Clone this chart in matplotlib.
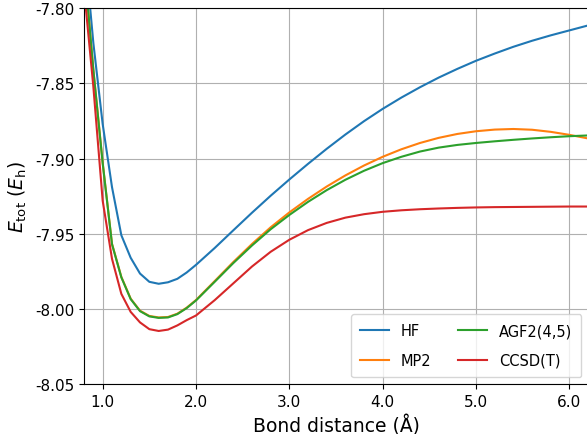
import numpy as np
import matplotlib
matplotlib.use("Agg")
import matplotlib.pyplot as plt
from matplotlib.ticker import FormatStrFormatter

# bond distances (Angstrom)
r = [0.8, 0.9, 1.0, 1.1, 1.2, 1.3, 1.4, 1.5, 1.6, 1.7, 1.8, 1.9, 2.0,
     2.2, 2.4, 2.6, 2.8, 3.0, 3.2, 3.4, 3.6, 3.8, 4.0, 4.2, 4.4, 4.6,
     4.8, 5.0, 5.2, 5.4, 5.6, 5.8, 6.0, 6.2, 6.4]

# total energies (Hartree)
e_hf = [-7.755, -7.823, -7.877, -7.919, -7.951, -7.966, -7.9765, -7.982,
        -7.9833, -7.9823, -7.980, -7.9758, -7.9707,
        -7.9595, -7.9477, -7.9360, -7.9247, -7.9139, -7.9035, -7.8935,
        -7.8840, -7.8751, -7.8669, -7.8594, -7.8525, -7.8461, -7.8403,
        -7.8349, -7.8301, -7.8256, -7.8216, -7.8180, -7.8147, -7.8114,
        -7.8084]
e_mp2 = [-7.7697, -7.8407, -7.9027, -7.9567, -7.9787, -7.9932, -8.0012,
         -8.0047, -8.0057, -8.0054, -8.0032, -7.9992, -7.9941,
         -7.9815, -7.9688, -7.9568, -7.9457, -7.9358, -7.9268, -7.9186,
         -7.9112, -7.9046, -7.8988, -7.8938, -7.8896, -7.8862, -7.8836,
         -7.8818, -7.8807, -7.8803, -7.8808, -7.8822, -7.8842, -7.8866,
         -7.8893]
e_agf2 = [-7.770, -7.841, -7.903, -7.957, -7.979, -7.9935, -8.0015, -8.005,
          -8.006, -8.0057, -8.0035, -7.9995, -7.9944,
          -7.9820, -7.9695, -7.9578, -7.9470, -7.9375, -7.9288, -7.9210,
          -7.9141, -7.9081, -7.9030, -7.8988, -7.8953, -7.8927, -7.8909,
          -7.8896, -7.8885, -7.8875, -7.8866, -7.8858, -7.8851, -7.8846,
          -7.8842]
e_ccsdt = [-7.787, -7.852, -7.928, -7.9667, -7.990, -8.002, -8.009, -8.0135,
           -8.0147, -8.0138, -8.011, -8.0075, -8.0044,
           -7.9942, -7.9830, -7.9718, -7.9620, -7.9540, -7.9476, -7.9428,
           -7.9393, -7.9370, -7.9354, -7.9344, -7.9337, -7.9332, -7.9328,
           -7.9325, -7.9323, -7.9322, -7.9321, -7.9320, -7.9319, -7.9319,
           -7.9318]

labels = ["HF", "MP2", "AGF2(4,5)", "CCSD(T)"]

plt.rcParams['axes.unicode_minus'] = False

fig = plt.figure(figsize=(5.87, 4.35), dpi=100)
# axes run to the right edge of the figure, right spine falls just outside
ax = fig.add_axes([0.1431, 0.1149, 0.8587, 0.8637])

for e, lab in zip([e_hf, e_mp2, e_agf2, e_ccsdt], labels):
    ax.plot(r, e, label=lab, lw=1.5)

ax.set_xlim(0.8, 6.2)
ax.set_ylim(-8.05, -7.80)
ax.set_xticks([1, 2, 3, 4, 5, 6])
ax.set_yticks(np.arange(-8.05, -7.799, 0.05))
ax.xaxis.set_major_formatter(FormatStrFormatter('%.1f'))
ax.yaxis.set_major_formatter(FormatStrFormatter('%.2f'))
ax.tick_params(labelsize=11)
ax.grid(True, color='#b0b0b0', lw=0.8)

ax.set_xlabel("Bond distance (Å)", fontsize=13.5)
ax.set_ylabel(r"$E_{\mathrm{tot}}$ ($E_{\mathrm{h}}$)", fontsize=13.5)

ax.legend(loc='lower right', ncol=2, fontsize=10.5, labelspacing=1.0,
          borderpad=0.65, columnspacing=1.8, borderaxespad=0.45)

fig.savefig("out.png", dpi=100)
